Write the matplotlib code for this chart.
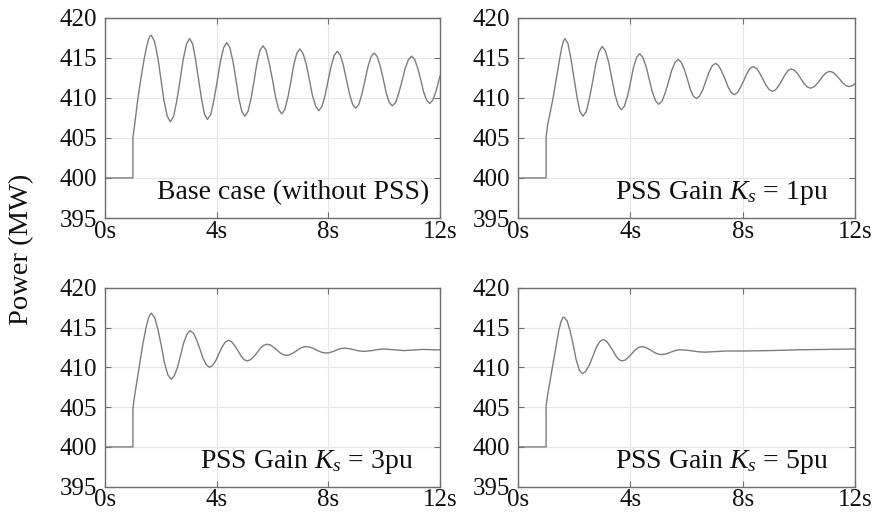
import matplotlib
matplotlib.use("Agg")
import matplotlib.pyplot as plt

plt.rcParams['font.family'] = ['Liberation Serif', 'DejaVu Serif']
plt.rcParams['mathtext.fontset'] = 'custom'
plt.rcParams['mathtext.rm'] = 'Liberation Serif'
plt.rcParams['mathtext.it'] = 'Liberation Serif:italic'

# ---------------- data ----------------
x_ticks = [0, 4, 8, 12]
x_tick_labels = ['0s', '4s', '8s', '12s']
y_ticks = [395, 400, 405, 410, 415, 420]
y_tick_labels = ['395', '400', '405', '410', '415', '420']
y_label = 'Power (MW)'
titles = ['Base case (without PSS)', 'PSS Gain $K_s$ = 1pu',
          'PSS Gain $K_s$ = 3pu', 'PSS Gain $K_s$ = 5pu']

t_base = [0, 1.0, 1.0, 1.05, 1.17, 1.29, 1.41, 1.50, 1.56, 1.61, 1.66,
          1.77, 1.89, 2.00, 2.11, 2.23, 2.34,
          2.46, 2.57, 2.69, 2.80, 2.92, 3.03,
          3.14, 3.24, 3.35, 3.46, 3.56, 3.67,
          3.79, 3.90, 4.02, 4.13, 4.25, 4.36,
          4.47, 4.58, 4.69, 4.79, 4.90, 5.01,
          5.12, 5.23, 5.34, 5.44, 5.55, 5.66,
          5.77, 5.88, 6.00, 6.11, 6.22, 6.33,
          6.44, 6.55, 6.66, 6.76, 6.87, 6.98,
          7.09, 7.21, 7.32, 7.43, 7.55, 7.66,
          7.77, 7.88, 7.99, 8.10, 8.21, 8.32,
          8.43, 8.54, 8.65, 8.76, 8.87, 8.98,
          9.09, 9.20, 9.31, 9.42, 9.53, 9.64,
          9.75, 9.86, 9.97, 10.07, 10.18, 10.29,
          10.41, 10.52, 10.64, 10.75, 10.87, 10.98,
          11.09, 11.20, 11.31, 11.41, 11.52, 11.63,
          11.74, 11.85, 11.96, 12.0]
p_base = [400, 400, 405.1, 406.3, 409.7, 412.5, 415.0, 416.5, 417.3, 417.7, 417.8,
          417.08, 415.1, 412.4, 409.7, 407.72, 407.0,
          407.70, 409.6, 412.2, 414.8, 416.70, 417.4,
          416.72, 414.87, 412.35, 409.82, 407.98, 407.3,
          407.94, 409.7, 412.1, 414.5, 416.26, 416.9,
          416.28, 414.6, 412.3, 410.0, 408.32, 407.7,
          408.29, 409.9, 412.1, 414.3, 415.91, 416.5,
          415.93, 414.37, 412.25, 410.12, 408.57, 408.0,
          408.54, 410.03, 412.05, 414.08, 415.56, 416.1,
          415.58, 414.17, 412.25, 410.32, 408.92, 408.4,
          408.9, 410.25, 412.1, 413.95, 415.3, 415.8,
          415.32, 414.02, 412.25, 410.47, 409.18, 408.7,
          409.16, 410.43, 412.15, 413.88, 415.14, 415.6,
          415.16, 413.95, 412.3, 410.65, 409.44, 409.0,
          409.42, 410.55, 412.1, 413.65, 414.78, 415.2,
          414.8, 413.72, 412.25, 410.77, 409.7, 409.3,
          409.7, 410.75, 412.2, 412.7]

t_k1 = [0, 1.0, 1.0, 1.05, 1.25, 1.37, 1.49, 1.56, 1.62, 1.67,
        1.78, 1.88, 1.99, 2.10, 2.20, 2.31,
        2.43, 2.54, 2.66, 2.77, 2.89, 3.00,
        3.11, 3.23, 3.34, 3.45, 3.57, 3.68,
        3.79, 3.90, 4.01, 4.11, 4.22, 4.33,
        4.44, 4.56, 4.67, 4.78, 4.90, 5.01,
        5.13, 5.24, 5.36, 5.47, 5.59, 5.70,
        5.81, 5.92, 6.03, 6.13, 6.24, 6.35,
        6.46, 6.58, 6.69, 6.80, 6.92, 7.03,
        7.14, 7.25, 7.37, 7.48, 7.59, 7.70,
        7.81, 7.92, 8.04, 8.15, 8.26, 8.37,
        8.49, 8.60, 8.72, 8.83, 8.95, 9.06,
        9.17, 9.28, 9.40, 9.51, 9.62, 9.73,
        9.84, 9.96, 10.07, 10.18, 10.30, 10.41,
        10.53, 10.64, 10.76, 10.87, 10.99, 11.10,
        11.22, 11.33, 11.45, 11.56, 11.68, 11.79,
        11.90, 12.0]
p_k1 = [400, 400, 405.1, 406.5, 410.0, 412.5, 415.0, 416.3, 417.1, 417.4,
        416.75, 414.97, 412.55, 410.12, 408.35, 407.7,
        408.28, 409.88, 412.05, 414.23, 415.82, 416.4,
        415.87, 414.42, 412.45, 410.47, 409.03, 408.5,
        408.97, 410.25, 412.0, 413.75, 415.03, 415.5,
        415.08, 413.92, 412.35, 410.77, 409.62, 409.2,
        409.58, 410.6, 412.0, 413.4, 414.42, 414.8,
        414.47, 413.57, 412.35, 411.12, 410.23, 409.9,
        410.19, 411.0, 412.1, 413.2, 414.01, 414.3,
        414.04, 413.32, 412.35, 411.37, 410.66, 410.4,
        410.63, 411.28, 412.15, 413.03, 413.67, 413.9,
        413.69, 413.12, 412.35, 411.57, 411.01, 410.8,
        410.99, 411.5, 412.2, 412.9, 413.41, 413.6,
        413.44, 413.0, 412.4, 411.8, 411.36, 411.2,
        411.34, 411.73, 412.25, 412.78, 413.16, 413.3,
        413.17, 412.82, 412.35, 411.87, 411.53, 411.4,
        411.5, 411.75]

t_k3 = [0, 1.0, 1.0, 1.05, 1.2, 1.35, 1.47, 1.55, 1.61, 1.66,
        1.78, 1.90, 2.02, 2.13, 2.25, 2.37,
        2.48, 2.60, 2.71, 2.82, 2.94, 3.05,
        3.17, 3.28, 3.40, 3.51, 3.63, 3.74,
        3.85, 3.97, 4.08, 4.19, 4.31, 4.42,
        4.53, 4.64, 4.76, 4.87, 4.98, 5.09,
        5.21, 5.33, 5.45, 5.56, 5.68, 5.80,
        5.92, 6.03, 6.15, 6.26, 6.38, 6.49,
        6.61, 6.73, 6.85, 6.96, 7.08, 7.20,
        7.32, 7.44, 7.56, 7.68, 7.80, 7.92,
        8.03, 8.14, 8.25, 8.35, 8.46, 8.57,
        8.69, 8.81, 8.93, 9.04, 9.16, 9.28,
        9.52, 9.75, 9.99, 10.35, 10.71, 11.05, 11.4, 11.75, 12.0]
p_k3 = [400, 400, 404.8, 406.2, 409.5, 412.8, 415.0, 416.1, 416.6, 416.8,
        416.24, 414.72, 412.65, 410.57, 409.06, 408.5,
        408.91, 410.03, 411.55, 413.08, 414.19, 414.6,
        414.29, 413.45, 412.3, 411.15, 410.31, 410.0,
        410.23, 410.85, 411.7, 412.55, 413.17, 413.4,
        413.23, 412.75, 412.1, 411.45, 410.97, 410.8,
        410.94, 411.33, 411.85, 412.38, 412.76, 412.9,
        412.81, 412.55, 412.2, 411.85, 411.59, 411.5,
        411.57, 411.78, 412.05, 412.33, 412.53, 412.6,
        412.55, 412.4, 412.2, 412.0, 411.85, 411.8,
        411.84, 411.95, 412.1, 412.25, 412.36, 412.4,
        412.37, 412.3, 412.2, 412.1, 412.03, 412.0,
        412.08, 412.22, 412.3, 412.2, 412.1, 412.17, 412.25, 412.2, 412.2]

t_k5 = [0, 1.0, 1.0, 1.05, 1.2, 1.35, 1.45, 1.53, 1.59, 1.64,
        1.75, 1.86, 1.97, 2.07, 2.18, 2.29,
        2.41, 2.54, 2.66, 2.78, 2.91, 3.03,
        3.14, 3.25, 3.37, 3.48, 3.59, 3.70,
        3.82, 3.93, 4.05, 4.16, 4.28, 4.39,
        4.51, 4.63, 4.75, 4.86, 4.98, 5.10,
        5.21, 5.33, 5.44, 5.55, 5.67, 5.78,
        6.0, 6.22, 6.43, 6.65,
        7.02, 7.4, 8.0, 9.0, 10.0, 11.0, 12.0]
p_k5 = [400, 400, 405.1, 406.4, 409.5, 412.5, 414.6, 415.7, 416.2, 416.3,
        415.82, 414.52, 412.75, 410.97, 409.68, 409.2,
        409.49, 410.28, 411.35, 412.43, 413.21, 413.5,
        413.32, 412.82, 412.15, 411.47, 410.98, 410.8,
        410.92, 411.25, 411.7, 412.15, 412.48, 412.6,
        412.53, 412.35, 412.1, 411.85, 411.67, 411.6,
        411.64, 411.75, 411.9, 412.05, 412.16, 412.2,
        412.15, 412.05, 411.95, 411.9,
        411.97, 412.05, 412.05, 412.1, 412.2, 412.25, 412.3]

series = [(t_base, p_base), (t_k1, p_k1), (t_k3, p_k3), (t_k5, p_k5)]

# ---------------- layout ----------------
W, H = 874, 516
fig = plt.figure(figsize=(W / 100, H / 100), dpi=100)
fig.patch.set_facecolor('white')

lefts = [105, 518, 105, 518]
rights = [440, 855, 440, 855]
tops = [17.7, 17.7, 287.7, 287.7]
bottoms = [218, 218, 486.7, 486.7]
text_x = [11.62, 11.04, 11.04, 11.04]

spine_col = '#6e6e6e'
for i, (t, p) in enumerate(series):
    ax = fig.add_axes([lefts[i] / W, 1 - bottoms[i] / H,
                       (rights[i] - lefts[i]) / W, (bottoms[i] - tops[i]) / H])
    ax.plot(t, p, color='#7d7d7d', lw=1.0, solid_joinstyle='round')
    ax.set_xlim(0, 12)
    ax.set_ylim(395, 420)
    ax.set_xticks(x_ticks)
    ax.set_xticklabels(x_tick_labels)
    ax.set_yticks(y_ticks)
    ax.set_yticklabels(y_tick_labels)
    ax.set_axisbelow(True)
    ax.grid(True, color='#e6e6e6', lw=0.8)
    for s in ax.spines.values():
        s.set_color(spine_col)
        s.set_linewidth(1.0)
    ax.tick_params(axis='both', direction='in', length=4, width=0.8,
                   color=spine_col, top=True, right=True, labelsize=18,
                   labelcolor='#111111')
    ax.tick_params(axis='x', pad=2)
    ax.tick_params(axis='y', pad=6)
    ax.text(text_x[i], 397.4, titles[i], fontsize=20,
            ha='right', va='baseline', color='#111111')

fig.text(22 / W, 1 - 249 / H, y_label, rotation=90, fontsize=20.5,
         ha='center', va='center', color='#111111')

fig.savefig('out.png', dpi=100)
